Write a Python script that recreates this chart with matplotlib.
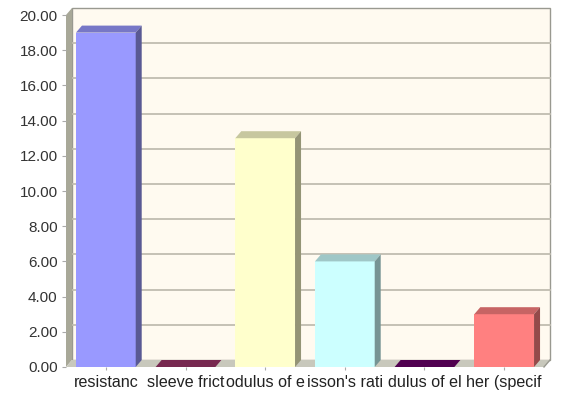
import matplotlib.pyplot as plt
from matplotlib.patches import Polygon, Rectangle
import numpy as np

plt.rcParams['font.family'] = ['Liberation Sans', 'DejaVu Sans']

categories = ["resistanc", "sleeve frict", "odulus of e", "isson's rati", "dulus of el", "her (specif"]
values = [19.0, 0.0, 13.0, 6.0, 0.0, 3.0]
colors = ["#9999FF", "#993366", "#FFFFCC", "#CCFFFF", "#660066", "#FF8080"]
yticks = [0, 2, 4, 6, 8, 10, 12, 14, 16, 18, 20]

W, H = 584, 396
fig = plt.figure(figsize=(W / 100, H / 100), dpi=100)
fig.patch.set_facecolor("white")

# front face of the plot box, in pixels
left, right, top, bottom = 66, 544, 15, 367
ax = fig.add_axes([left / W, 1 - bottom / H, (right - left) / W, (bottom - top) / H])
ax.set_xlim(-0.5, len(categories) - 0.5)
ax.set_ylim(0, 20)
ax.set_facecolor("none")
for s in ax.spines.values():
    s.set_visible(False)

# 3D depth offset (pixels) turned into data units
depth_px = (6, 7)
xpx = (right - left) / len(categories)
ypx = (bottom - top) / 20
dx = depth_px[0] / xpx
dy = depth_px[1] / ypx

x0, x1 = -0.5, len(categories) - 0.5
wall_line = "#999990"

# back wall
ax.add_patch(Rectangle((x0 + dx, dy), x1 - x0, 20, facecolor="#FFFAF0",
                       edgecolor=wall_line, lw=1, clip_on=False, zorder=0))
for v in yticks[1:-1]:
    ax.plot([x0 + dx, x1 + dx], [v + dy, v + dy], color="#C0BCB0", lw=1.3,
            clip_on=False, zorder=1)

# left wall and floor
ax.add_patch(Polygon([(x0, 0), (x0 + dx, dy), (x0 + dx, 20 + dy), (x0, 20)],
                     closed=True, facecolor="#A8A898", edgecolor="none",
                     clip_on=False, zorder=1))
ax.add_patch(Polygon([(x0, 0), (x1, 0), (x1 + dx, dy), (x0 + dx, dy)],
                     closed=True, facecolor="#C8C8BC", edgecolor="none",
                     clip_on=False, zorder=1))
ax.plot([x1, x1 + dx], [0, dy], color=wall_line, lw=1, clip_on=False, zorder=1)


def shade(c, f):
    rgb = np.array([int(c[i:i + 2], 16) for i in (1, 3, 5)]) / 255.0
    return tuple(rgb * f)


bw = 0.375
for i, (v, c) in enumerate(zip(values, colors)):
    xl, xr = i - bw, i + bw
    ax.add_patch(Rectangle((xl, 0), xr - xl, v, facecolor=c, edgecolor="none",
                           clip_on=False, zorder=3))
    ax.add_patch(Polygon([(xl, v), (xr, v), (xr + dx, v + dy), (xl + dx, v + dy)],
                         closed=True, facecolor=shade(c, 0.78), edgecolor="none",
                         clip_on=False, zorder=3))
    ax.add_patch(Polygon([(xr, 0), (xr + dx, dy), (xr + dx, v + dy), (xr, v)],
                         closed=True, facecolor=shade(c, 0.58), edgecolor="none",
                         clip_on=False, zorder=3))

ax.set_yticks(yticks)
ax.set_yticklabels(["%.2f" % t for t in yticks])
ax.set_xticks(range(len(categories)))
ax.set_xticklabels(categories)
ax.tick_params(axis="y", length=3, color="#AAAAAA", labelsize=11, labelcolor="#333333", pad=3)
ax.tick_params(axis="x", length=2, color="#AAAAAA", labelsize=11.6, labelcolor="#222222", pad=4)

fig.savefig("out.png", dpi=100)
